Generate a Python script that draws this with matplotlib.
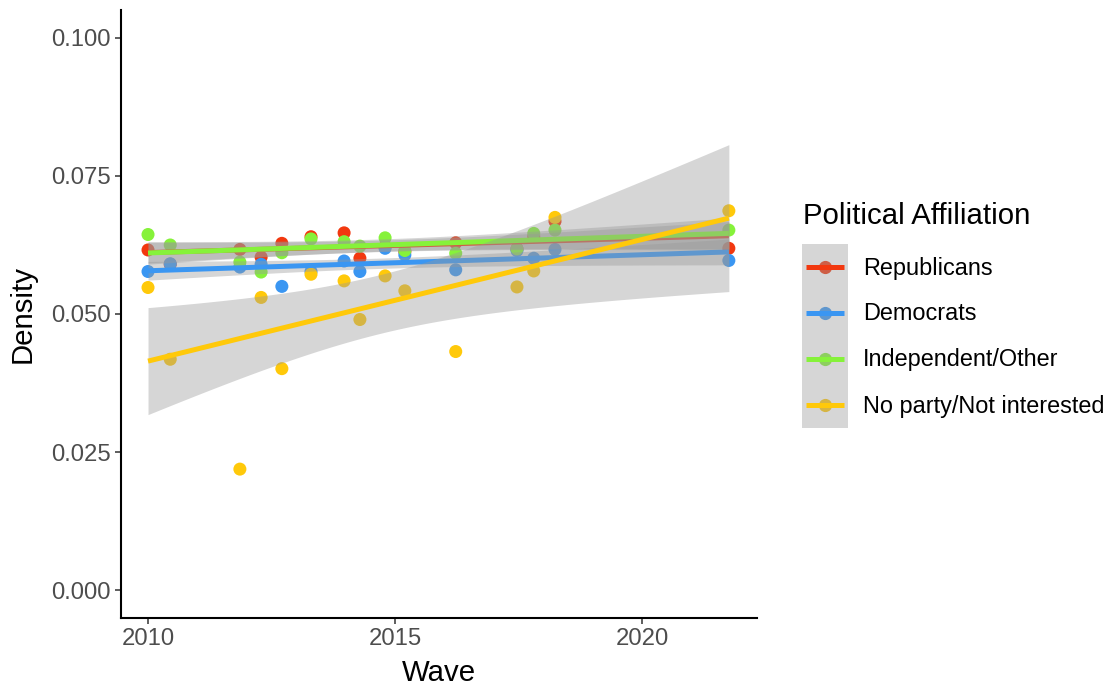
import numpy as np
import matplotlib
matplotlib.use("Agg")
import matplotlib.pyplot as plt
from matplotlib.patches import Rectangle
from matplotlib.lines import Line2D

plt.rcParams['font.family'] = ['Liberation Sans', 'DejaVu Sans']

# Survey waves (decimal year) and density per affiliation group
waves = [2010.00, 2010.45, 2011.86, 2012.29, 2012.71, 2013.30, 2013.97, 2014.29,
         2014.80, 2015.20, 2016.23, 2017.47, 2017.81, 2018.24, 2021.76]
republicans = [0.0616, 0.0590, 0.0617, 0.0603, 0.0628, 0.0640, 0.0647, 0.0601,
               0.0622, 0.0613, 0.0629, 0.0618, 0.0640, 0.0668, 0.0619]
democrats = [0.0577, 0.0591, 0.0585, 0.0590, 0.0550, 0.0577, 0.0596, 0.0577,
             0.0619, 0.0607, 0.0580, 0.0615, 0.0601, 0.0617, 0.0597]
independents = [0.0644, 0.0625, 0.0594, 0.0576, 0.0611, 0.0636, 0.0631, 0.0623,
                0.0638, 0.0615, 0.0610, 0.0618, 0.0646, 0.0652, 0.0652]
no_party = [0.0548, 0.0418, 0.0219, 0.0530, 0.0401, 0.0572, 0.0560, 0.0490,
            0.0569, 0.0542, 0.0432, 0.0549, 0.0578, 0.0675, 0.0687]

groups = ["Republicans", "Democrats", "Independent/Other", "No party/Not interested"]
series = [republicans, democrats, independents, no_party]
colors = ["#F2380F", "#3A96F2", "#86F23A", "#FFC90A"]

y_ticks = [0.0, 0.025, 0.05, 0.075, 0.1]
x_ticks = [2010, 2015, 2020]

# t quantile (97.5%) for n-2 = 13 degrees of freedom
T_975 = 2.160


def lm_band(x, y, xs):
    x = np.asarray(x)
    y = np.asarray(y)
    n = len(x)
    b1, b0 = np.polyfit(x, y, 1)
    resid = y - (b0 + b1 * x)
    s = np.sqrt(np.sum(resid ** 2) / (n - 2))
    xm = x.mean()
    sxx = np.sum((x - xm) ** 2)
    fit = b0 + b1 * xs
    se = s * np.sqrt(1.0 / n + (xs - xm) ** 2 / sxx)
    return fit, fit - T_975 * se, fit + T_975 * se


W, H = 1119, 686
fig = plt.figure(figsize=(W / 100, H / 100), dpi=100)
ax = fig.add_axes([121 / W, 1 - 618 / H, (757 - 121) / W, (618 - 10) / H])

# points first, smoothers drawn over them
for vals, col in zip(series, colors):
    ax.scatter(waves, vals, s=88, color=col, edgecolors='none', zorder=2)

xs = np.linspace(min(waves), max(waves), 80)
z = 3
for vals, col in zip(series, colors):
    fit, lo, hi = lm_band(waves, vals, xs)
    ax.fill_between(xs, lo, hi, color='#999999', alpha=0.4, linewidth=0, zorder=z)
    ax.plot(xs, fit, color=col, lw=3.6, solid_capstyle='butt', zorder=z + 1)
    z += 2

ax.set_xlim(2009.453, 2022.33)
ax.set_ylim(-0.00507, 0.10507)
ax.set_xticks(x_ticks)
ax.set_xticklabels([str(t) for t in x_ticks])
ax.set_yticks(y_ticks)
ax.set_yticklabels([f"{t:.3f}" for t in y_ticks])

for side in ['top', 'right']:
    ax.spines[side].set_visible(False)
for side in ['left', 'bottom']:
    ax.spines[side].set_linewidth(1.5)
    ax.spines[side].set_color('black')
ax.tick_params(axis='both', length=4.5, width=1.1, color='#333333',
               labelcolor='#4D4D4D', labelsize=17.2, pad=3)

ax.set_xlabel("Wave", fontsize=21.2, labelpad=6)
ax.set_ylabel("Density", fontsize=21.2, labelpad=10)

# legend
fig.text(803 / W, 1 - 216 / H, "Political Affiliation", fontsize=21.2,
         ha='left', va='center')
key_x0, key_x1 = 802, 848
key_top, key_h = 244, 46
row_y = [key_top + key_h * (i + 0.5) for i in range(4)]
for yy, col in zip(row_y, colors):
    fig.add_artist(Line2D([(key_x0 + key_x1) / 2 / W], [1 - yy / H], marker='o',
                          markersize=9.5, color=col, markeredgewidth=0,
                          transform=fig.transFigure, zorder=1))
fig.add_artist(Rectangle((key_x0 / W, 1 - (key_top + 4 * key_h) / H),
                         (key_x1 - key_x0) / W, 4 * key_h / H,
                         transform=fig.transFigure, facecolor='#999999',
                         alpha=0.4, edgecolor='none', zorder=2))
for yy, col, name in zip(row_y, colors, groups):
    fig.add_artist(Line2D([(key_x0 + 4) / W, (key_x1 - 4) / W], [1 - yy / H, 1 - yy / H],
                          color=col, lw=3.6, solid_capstyle='butt',
                          transform=fig.transFigure, zorder=3))
    fig.text(863 / W, 1 - (yy + 1) / H, name, fontsize=16.9, ha='left', va='center')

fig.savefig("out.png", dpi=100)
